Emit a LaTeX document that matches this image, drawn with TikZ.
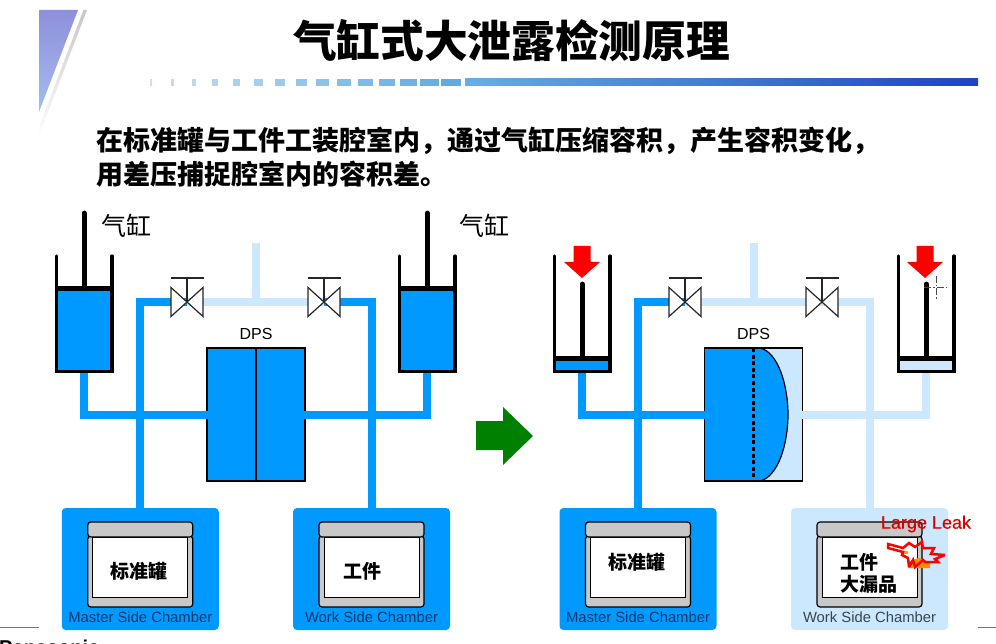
\documentclass[tikz,border=0pt]{standalone}
\usepackage{fontspec}
\setmainfont{Liberation Sans}
\newfontfamily\cjk{Noto Sans CJK SC}
\newfontfamily\leakfont[FakeBold=0.5]{Liberation Sans}
\usetikzlibrary{positioning}

\definecolor{fluid}{HTML}{0099FF}
\definecolor{vented}{HTML}{CCE8FF}
\definecolor{lidgray}{HTML}{C8C8C8}
\definecolor{navy}{HTML}{06396B}
\definecolor{slate}{HTML}{36464F}
\definecolor{wedgetop}{HTML}{8E90DA}
\definecolor{wedgelow}{HTML}{A4BCF0}
\definecolor{dashblue}{HTML}{5FA9E0}
\definecolor{barleft}{HTML}{66AEE4}
\definecolor{barright}{HTML}{1E44BE}
\definecolor{footgreen}{HTML}{1F9E78}

% cylinder: name, left x, piston y, fluid colour, rod top y
\newcommand{\cylunit}[5]{
	\coordinate (#1-pl) at (#2,#3);
	\coordinate (#1-pr) at ({#2+55.5},#3);
	\coordinate (#1-rod) at ({#2+27.75},#3);
	\coordinate (#1-out) at ({#2+27.75},373);
	\fill[#4] (#1-pl) rectangle (#1-out -| #1-pr);
	\draw[cylwall] (#2,256) -- (#2,371.5) -- ({#2+55.5},371.5) -- ({#2+55.5},256);
	\draw[line width=4.4pt] (#1-pl) -- (#1-pr);
	\draw[line width=4.8pt, line cap=round] (#1-rod) -- ({#2+27.75},#5);
}
% valve: name, centre x
\newcommand{\valveunit}[2]{
	\node (#1) [valvebox] at (#2,302) {};
	\draw[valveline, fill=white] (#1.north west) -- (#1.south east) -- (#1.north east) -- (#1.south west) -- cycle;
	\draw[valveline] (#1.center) -- ([yshift=24pt]#1.center);
	\draw[valveline] ([xshift=-16.5pt,yshift=24pt]#1.center) -- ([xshift=16.5pt,yshift=24pt]#1.center);
}
% chamber: name, centre x, fill, label colour, label
\newcommand{\chamberunit}[5]{
	\node (#1) [chamberbox, fill=#3] at (#2,569) {};
	\node (#1-body) [bodybox, below=28pt of #1.north] {};
	\node (#1-win) [winbox, below=1.5pt of #1-body.north] {};
	\node (#1-lid) [lidbox, below=14pt of #1.north] {};
	\node (#1-label) [tagtext, text=#4] at ([yshift=13pt]#1.south) {#5};
}
% red push arrow over a rod
\newcommand{\pusharrow}[1]{
	\fill[red] ({#1-8.5},246) -- ({#1+8.5},246) -- ({#1+8.5},262) -- ({#1+18},262) -- (#1,278) -- ({#1-18},262) -- ({#1-8.5},262) -- cycle;
}

\begin{document}
\begin{tikzpicture}[x=1pt,y=-1pt,
		pipe/.style={line width=8pt, fluid},
		ventpipe/.style={line width=8pt, vented},
		cylwall/.style={line width=3.3pt, line cap=round, line join=miter},
		valveline/.style={line width=1.2pt, black!85},
		valvebox/.style={minimum width=32pt, minimum height=29pt, inner sep=0pt, outer sep=0pt},
		dpsbox/.style={draw, line width=1.3pt, minimum width=98pt, minimum height=133pt, inner sep=0pt, outer sep=0pt},
		chamberbox/.style={rounded corners=4pt, minimum width=157pt, minimum height=122pt, inner sep=0pt, outer sep=0pt},
		lidbox/.style={draw, line width=1.2pt, fill=lidgray, rounded corners=3pt, minimum width=105pt, minimum height=15pt, inner sep=0pt, outer sep=0pt},
		bodybox/.style={draw, line width=1.2pt, fill=lidgray, rounded corners=3pt, minimum width=105pt, minimum height=71pt, inner sep=0pt, outer sep=0pt},
		winbox/.style={draw, line width=.8pt, fill=white, minimum width=95pt, minimum height=60pt, inner sep=0pt, outer sep=0pt},
		tagtext/.style={inner sep=0pt, font=\fontsize{14.8}{15}\selectfont},
		parttext/.style={inner sep=0pt, font=\cjk\bfseries\fontsize{19}{22}\selectfont},
		lead/.style={inner sep=0pt, anchor=west, font=\cjk\bfseries\fontsize{27}{27}\selectfont},
		cyltext/.style={inner sep=0pt, font=\cjk\fontsize{25}{25}\selectfont}]

		\path[use as bounding box] (0,0) rectangle (996,644);
		\clip (0,0) rectangle (996,644);

		% Header
		\shade[top color=wedgetop, bottom color=wedgelow] (39,10) -- (78,10) -- (39,112) -- cycle;
		\shade[top color=black!22, bottom color=white] (83.5,10) -- (87,10) -- (39,136) -- (39,127) -- cycle;
		\node (title) [inner sep=0pt, font=\cjk\bfseries\fontsize{43.7}{44}\selectfont] at (511.5,41) {气缸式大泄露检测原理};
		\foreach \i in {0,...,14}{
			\pgfmathsetmacro{\dashx}{150+20.8*\i}
			\pgfmathsetmacro{\dashw}{2+1.3*\i}
			\pgfmathsetmacro{\dashtone}{35+4.5*\i}
			\fill[dashblue!\dashtone!white] (\dashx,79) rectangle ({\dashx+\dashw},86);
		}
		\shade[left color=barleft, right color=barright] (465,79) rectangle (978,86);
		\node (leadA) [lead] at (96,141) {在标准罐与工件工装腔室内，通过气缸压缩容积，产生容积变化，};
		\node (leadB) [lead] at (96,174) {用差压捕捉腔室内的容积差。};

		% Left state
		\node (tagA) [cyltext] at (126,226) {气缸};
		\node (tagB) [cyltext] at (484,226) {气缸};
		\chamberunit{chamA}{140.25}{fluid}{navy}{Master Side Chamber}
		\chamberunit{chamB}{371.5}{fluid}{navy}{Work Side Chamber}
		\node (partA) [parttext] at (139,571) {标准罐};
		\node (partB) [parttext] at (362,571) {工件};
		\node (dpsA) [dpsbox, fill=fluid] at (256,414.5) {};
		\draw[line width=1.3pt] (dpsA.north) -- (dpsA.south);
		\node (dpsAtag) [inner sep=0pt, font=\fontsize{16}{16}\selectfont, above=8pt of dpsA] {DPS};
		\coordinate (ventA) at (256,243);
		\coordinate (ventAj) at (256,302);
		\coordinate (teeA) at (140.25,302);
		\coordinate (teeB) at (371.5,302);
		\draw[ventpipe] (ventA) -- (ventAj);
		\draw[ventpipe] (187,302) -- (324,302);
		\draw[pipe] (chamA.north) -- (teeA) -- (187,302);
		\draw[pipe] (chamB.north) -- (teeB) -- (324,302);
		\valveunit{valveA}{187}
		\valveunit{valveB}{324}
		\cylunit{cylA}{56.5}{288.5}{fluid}{213}
		\cylunit{cylB}{399.5}{288.5}{fluid}{213}
		\draw[pipe] (cylA-out) |- ([xshift=1pt]dpsA.west);
		\draw[pipe] (cylB-out) |- ([xshift=-1pt]dpsA.east);

		% Arrow between states
		\fill[green!50!black] (476,421) -- (503,421) -- (503,407) -- (533,436) -- (503,465) -- (503,450) -- (476,450) -- cycle;

		% Right state
		\chamberunit{chamC}{638}{fluid}{navy}{Master Side Chamber}
		\chamberunit{chamD}{869.5}{vented}{slate}{Work Side Chamber}
		\node (partC) [parttext] at (637,562) {标准罐};
		\node (dpsB) [dpsbox, fill=vented] at (753.5,414.5) {};
		\fill[fluid] (dpsB.north west) -- (760,348) .. controls (778,352) and (788,385) .. (788,414.5) .. controls (788,444) and (778,477) .. (760,481) -- (dpsB.south west) -- cycle;
		\draw[line width=1.2pt] (760,348) .. controls (778,352) and (788,385) .. (788,414.5) .. controls (788,444) and (778,477) .. (760,481);
		\draw[line width=2.4pt, dash pattern=on 4pt off 2.6pt] (dpsB.north) -- (dpsB.south);
		\draw[line width=1.3pt] (dpsB.north west) rectangle (dpsB.south east);
		\node (dpsBtag) [inner sep=0pt, font=\fontsize{16}{16}\selectfont, above=8pt of dpsB] {DPS};
		\coordinate (ventB) at (754,243);
		\coordinate (ventBj) at (754,302);
		\coordinate (teeC) at (638,302);
		\coordinate (teeD) at (869.5,302);
		\draw[ventpipe] (ventB) -- (ventBj);
		\draw[ventpipe] (chamD.north) -- (teeD) -- (685,302);
		\draw[pipe] (chamC.north) -- (teeC) -- (685,302);
		\valveunit{valveC}{685}
		\valveunit{valveD}{822}
		\cylunit{cylC}{554.5}{358.5}{fluid}{284}
		\cylunit{cylD}{898.5}{358.5}{vented}{284}
		\draw[pipe] (cylC-out) |- ([xshift=1pt]dpsB.west);
		\draw[ventpipe] (cylD-out) |- ([xshift=-1pt]dpsB.east);
		\pusharrow{582}
		\pusharrow{925}
		\draw[line width=1pt, black!70, dash pattern=on 7pt off 2pt on 1.5pt off 2pt] (924,288) -- (948,288);
		\draw[line width=1pt, black!70, dash pattern=on 7pt off 2pt on 1.5pt off 2pt] (936,276) -- (936,300);

		% Leak on the work piece
		\fill[orange!90!yellow] (908,568) -- (908,562) -- (918,558) -- (930,562) -- (930,568) -- cycle;
		\fill[orange!70!yellow] (903,551) -- (908,551) -- (908,560) -- (903,557) -- cycle;
		\node (partD) [fill=white, inner sep=0pt, minimum width=80pt, minimum height=38pt] at (868,573) {};
		\node (partDa) [parttext, anchor=west] at (840,562) {工件};
		\node (partDb) [parttext, anchor=west] at (840,584) {大漏品};
		\draw[red, line width=2.5pt, line join=miter, miter limit=3] (888,544) -- (903,548) -- (909,543) -- (915,547) -- (922,542) -- (923,548) -- (934,548) -- (931,554) -- (945,555) -- (935,559) -- (938,562) -- (925,562) -- (923,560) -- (915,567) -- (913,560) -- (909,567) -- (908,558) -- (902,555) -- (903,552) -- (888,548) -- cycle;
		\node (leak) [inner sep=0pt, text=red!85!black, font=\leakfont\fontsize{18}{18}\selectfont] at (926,524) {Large Leak};

		% Footer
		\coordinate (footA) at (0,627.5);
		\coordinate (footB) at (39,627.5);
		\coordinate (footC) at (978,627.5);
		\coordinate (footD) at (996,627.5);
		\draw[line width=1.6pt, footgreen] (footA) -- (footB);
		\draw[line width=1.6pt, footgreen] (footC) -- (footD);
		\node (brand) [inner sep=0pt, anchor=base west, font=\bfseries\fontsize{20}{20}\selectfont] at (-1,654) {Panasonic};
	\end{tikzpicture}
\end{document}
